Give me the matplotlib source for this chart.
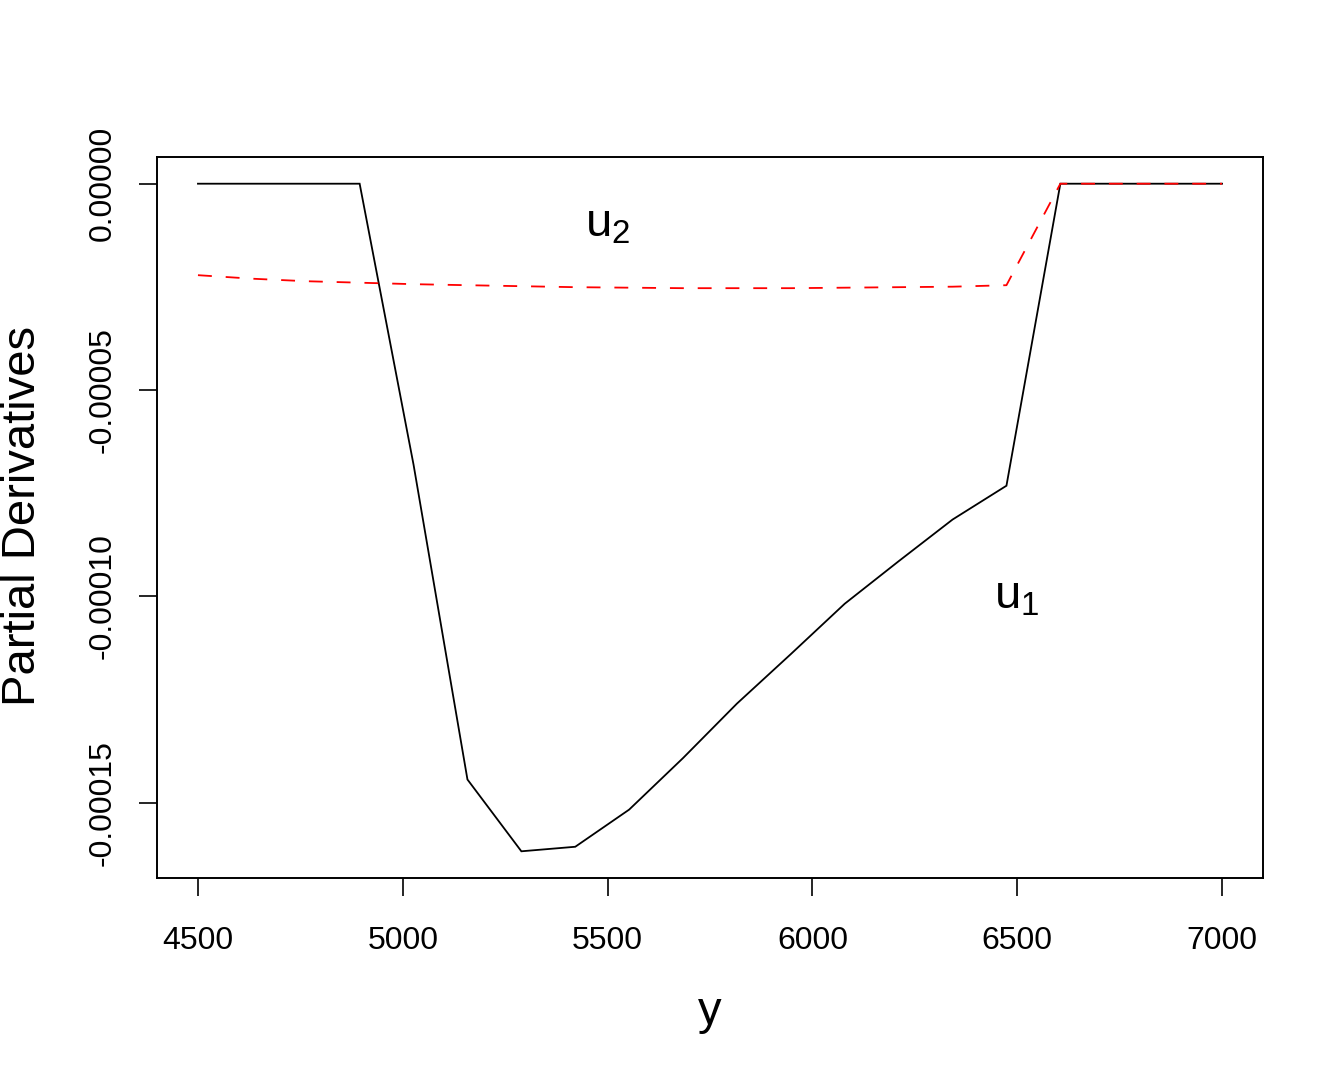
import numpy as np
import matplotlib
matplotlib.use("Agg")
import matplotlib.pyplot as plt

plt.rcParams['font.family'] = ['Liberation Sans', 'DejaVu Sans']
plt.rcParams['mathtext.fontset'] = 'custom'
plt.rcParams['mathtext.rm'] = 'Liberation Sans'
plt.rcParams['mathtext.it'] = 'Liberation Sans'
plt.rcParams['lines.scale_dashes'] = False

# grid of y values (20 evenly spaced points from 4500 to 7000)
y_vals = [4500.0, 4631.6, 4763.2, 4894.7, 5026.3, 5157.9, 5289.5, 5421.1, 5552.6, 5684.2,
          5815.8, 5947.4, 6078.9, 6210.5, 6342.1, 6473.7, 6605.3, 6736.8, 6868.4, 7000.0]

u1 = [0.0, 0.0, 0.0, 0.0, -6.81e-5, -1.444e-4, -1.618e-4, -1.607e-4, -1.517e-4, -1.392e-4,
      -1.260e-4, -1.140e-4, -1.018e-4, -9.15e-5, -8.14e-5, -7.32e-5, 0.0, 0.0, 0.0, 0.0]

u2 = [-2.217e-5, -2.302e-5, -2.363e-5, -2.399e-5, -2.435e-5, -2.460e-5, -2.484e-5, -2.508e-5,
      -2.520e-5, -2.532e-5, -2.532e-5, -2.532e-5, -2.520e-5, -2.508e-5, -2.496e-5, -2.460e-5,
      0.0, 0.0, 0.0, 0.0]

x_ticks = [4500, 5000, 5500, 6000, 6500, 7000]
y_ticks = [0.0, -0.00005, -0.00010, -0.00015]
y_tick_labels = ["0.00000", "-0.00005", "-0.00010", "-0.00015"]

fig = plt.figure(figsize=(13.44, 10.75), dpi=100)
ax = fig.add_axes([157/1344, 1-878/1075, (1263-157)/1344, (878-157)/1075])

lw = 1.3
ax.plot(y_vals, u1, color='black', lw=lw, solid_joinstyle='miter')
ax.plot(y_vals, u2, color='red', lw=lw, dashes=(10, 10))

# R-style 4% padding
xr = max(y_vals) - min(y_vals)
ax.set_xlim(min(y_vals) - 0.04*xr, max(y_vals) + 0.04*xr)
allv = u1 + u2
yr = max(allv) - min(allv)
ax.set_ylim(min(allv) - 0.04*yr, max(allv) + 0.04*yr)

ax.set_xticks(x_ticks)
ax.set_xticklabels([str(t) for t in x_ticks])
ax.set_yticks(y_ticks)
ax.set_yticklabels(y_tick_labels, rotation=90, va='center')

for s in ax.spines.values():
    s.set_linewidth(1.4)

ax.tick_params(axis='both', direction='out', length=13, width=1.2, labelsize=23)
ax.tick_params(axis='x', pad=21.5)
ax.tick_params(axis='y', pad=15.5)

ax.set_xlabel('y', fontsize=34)
ax.xaxis.set_label_coords(0.5, -(990-878)/(878-157), transform=ax.transAxes)
ax.set_ylabel('Partial Derivatives', fontsize=34)
ax.yaxis.set_label_coords(-(157-45)/(1263-157), (878-516)/(878-157))

ax.text(5500, -1.0e-5, r'$\mathregular{u_2}$', fontsize=34, ha='center', va='center')
ax.text(6500, -1.0e-4, r'$\mathregular{u_1}$', fontsize=34, ha='center', va='center')

fig.savefig('out.png', dpi=100)
